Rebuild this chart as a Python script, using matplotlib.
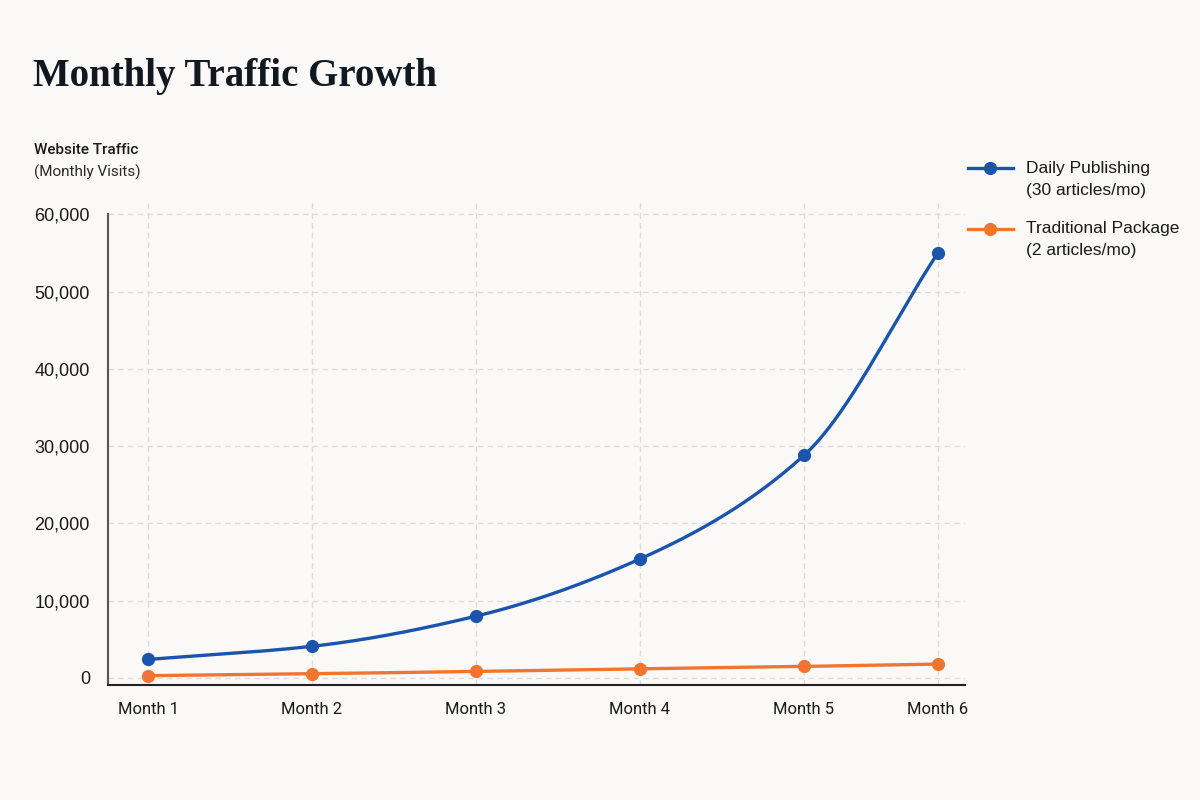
import numpy as np
import matplotlib
matplotlib.use("Agg")
import matplotlib.pyplot as plt
from matplotlib.lines import Line2D
from matplotlib.ticker import FuncFormatter

# ---- data ----
months = ["Month 1", "Month 2", "Month 3", "Month 4", "Month 5", "Month 6"]
daily_publishing = [2400, 4100, 8000, 15400, 28800, 55000]
traditional_package = [300, 550, 850, 1200, 1500, 1800]
y_ticks = [0, 10000, 20000, 30000, 40000, 50000, 60000]
series_labels = [("Daily Publishing", "(30 articles/mo)"),
                 ("Traditional Package", "(2 articles/mo)")]

BLUE = "#1a54ad"
ORANGE = "#f07530"
BG = "#faf9f7"

def monotone_curve(x, y, n=60):
    x = np.asarray(x, float); y = np.asarray(y, float)
    h = np.diff(x); d = np.diff(y) / h
    m = np.zeros_like(y)
    m[0] = d[0]; m[-1] = d[-1]
    for i in range(1, len(x) - 1):
        if d[i - 1] * d[i] <= 0:
            m[i] = 0
        else:
            w1 = 2 * h[i] + h[i - 1]; w2 = h[i] + 2 * h[i - 1]
            m[i] = (w1 + w2) / (w1 / d[i - 1] + w2 / d[i])
    xs, ys = [], []
    for i in range(len(x) - 1):
        t = np.linspace(0, 1, n)
        h00 = 2*t**3 - 3*t**2 + 1; h10 = t**3 - 2*t**2 + t
        h01 = -2*t**3 + 3*t**2; h11 = t**3 - t**2
        xs.append(x[i] + t * h[i])
        ys.append(h00*y[i] + h10*h[i]*m[i] + h01*y[i+1] + h11*h[i]*m[i+1])
    return np.concatenate(xs), np.concatenate(ys)

fig = plt.figure(figsize=(12, 8), dpi=100, facecolor=BG)
ax = fig.add_axes([0.09, 0.14375, 0.71417, 0.60375])
ax.set_facecolor(BG)

x_pos = np.array([0, 1, 2, 3, 4, 4.817])

for vals, col in [(daily_publishing, BLUE), (traditional_package, ORANGE)]:
    cx, cy = monotone_curve(x_pos, vals)
    ax.plot(cx, cy, color=col, lw=2.4, solid_capstyle="round", zorder=3)
    ax.plot(x_pos, vals, "o", color=col, ms=8.5, zorder=4)

ax.set_xlim(-0.244, 4.982)
ax.set_ylim(-906, 61580)
ax.set_xticks(x_pos)
ax.set_xticklabels(months, family=["Roboto", "DejaVu Sans"],
                   fontsize=12, color="#1a1a1a")
ax.set_yticks(y_ticks)
ax.yaxis.set_major_formatter(FuncFormatter(lambda v, p: f"{int(v):,}"))
for lab in ax.get_yticklabels():
    lab.set_family(["Liberation Sans", "DejaVu Sans"])
    lab.set_fontsize(13)
    lab.set_color("#1a1a1a")
ax.tick_params(axis="y", length=0, pad=13)
ax.tick_params(axis="x", length=0, pad=12)

ax.grid(True, color="#dcdcdc", ls=(0, (4, 3)), lw=1)
ax.set_axisbelow(True)
for s in ["top", "right"]:
    ax.spines[s].set_visible(False)
ax.spines["left"].set_color("#555555")
ax.spines["left"].set_linewidth(1.5)
ax.spines["left"].set_bounds(-906, 60000)
ax.spines["bottom"].set_color("#222222")
ax.spines["bottom"].set_linewidth(1.5)

# title
fig.text(33/1200, 1 - 86/800, "Monthly Traffic Growth",
         family=["Liberation Serif", "DejaVu Serif"], fontweight="bold",
         fontsize=28, color="#111820", va="baseline", ha="left")

# y-axis label
fig.text(34/1200, 1 - 154/800, "Website Traffic", family=["Roboto", "DejaVu Sans"],
         fontweight="medium", fontsize=11, color="#1a1a1a", va="baseline")
fig.text(34/1200, 1 - 177/800, "(Monthly Visits)", family=["Roboto", "DejaVu Sans"],
         fontsize=11, color="#2a2a2a", va="baseline")

# legend (manual)
for (l1, l2), col, yc in zip(series_labels, [BLUE, ORANGE], [168, 229]):
    yf = 1 - yc/800
    fig.add_artist(Line2D([968/1200, 1013/1200], [yf, yf], color=col, lw=2.4,
                          transform=fig.transFigure))
    fig.add_artist(Line2D([990/1200], [yf], marker="o", color=col, ms=8.5,
                          transform=fig.transFigure))
    fig.text(1026/1200, yf, l1, family=["Liberation Sans", "DejaVu Sans"],
             fontsize=12.5, color="#1a1a1a", va="center")
    fig.text(1026/1200, 1 - (yc + 22)/800, l2, family=["Liberation Sans", "DejaVu Sans"],
             fontsize=12.5, color="#1a1a1a", va="center")

fig.savefig("out.png", dpi=100, facecolor=BG)
